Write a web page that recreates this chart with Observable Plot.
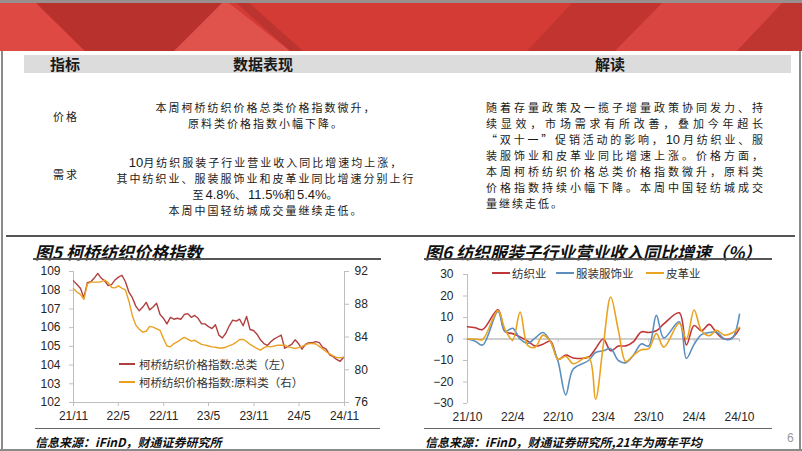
<!DOCTYPE html>
<html><head><meta charset="utf-8">
<script src="https://cdn.jsdelivr.net/npm/d3@7"></script>
<script src="https://cdn.jsdelivr.net/npm/@observablehq/plot@0.6"></script>
<style>
body{margin:0;background:#fff;}
#slide{position:relative;width:802px;height:451px;overflow:hidden;background:#fff;font-family:"Noto Sans CJK SC",sans-serif;color:#1a1a1a;}
.a{position:absolute;white-space:nowrap;}
.t13{font-size:11px;line-height:16px;letter-spacing:2px;}
.n{font-family:'Liberation Sans',Arial,sans-serif;font-size:13px;letter-spacing:0;}
.c{transform:translateX(-50%);}
.hdr{font-size:15px;font-weight:bold;line-height:18px;}
.jl{width:277px;text-align:justify;text-align-last:justify;letter-spacing:0;}
.ttl{font-size:17px;font-weight:bold;font-style:italic;line-height:20px;color:#111;}
.src{font-size:12px;font-weight:bold;font-style:italic;line-height:14px;color:#111;}
.leg{font-size:11.5px;line-height:14px;color:#333;}
.sw{position:absolute;height:2px;}
</style></head>
<body><div id="slide">
<svg class="a" style="left:0;top:0" width="802" height="51">
<rect width="802" height="51" fill="#d43b35"/>
<polygon points="0,0 33,0 85,51 0,51" fill="#de4a43"/>
<polygon points="33,0 225,0 174,51 85,51" fill="#b8312d"/>
<polygon points="225,0 174,51 290,51" fill="#e0534c"/>
<polygon points="233,0 246,0 303,51 290,51" fill="#bb3430"/>
<polygon points="575,0 665,0 615,51 527,51" fill="#c2342f"/>
<polygon points="665,0 785,0 737,51 615,51" fill="#d94540"/>
<polygon points="785,0 802,0 802,51 737,51" fill="#bf3530"/>
<rect width="802" height="3" fill="#9a8f8f"/>
</svg>
<div class="a" style="left:1px;top:51px;width:2px;height:400px;background:#8a8a8a"></div>
<div class="a" style="left:799px;top:51px;width:2px;height:400px;background:#8a8a8a"></div>
<div class="a" style="left:0;top:449px;width:802px;height:2px;background:#8a8a8a"></div>

<div class="a" style="left:24px;top:55px;width:767px;height:18px;background:#dcdcdc"></div>
<div class="a hdr c" style="left:65px;top:55px">指标</div>
<div class="a hdr c" style="left:263px;top:55px">数据表现</div>
<div class="a hdr c" style="left:610px;top:55px">解读</div>

<div class="a t13 c" style="left:66px;top:108px">价格</div>
<div class="a t13 c" style="left:266px;top:99px">本周柯桥纺织价格总类价格指数微升，</div>
<div class="a t13 c" style="left:266px;top:115px">原料类价格指数小幅下降。</div>

<div class="a t13 c" style="left:66px;top:166px">需求</div>
<div class="a t13 c" style="left:266px;top:154px"><span class="n">10</span>月纺织服装子行业营业收入同比增速均上涨，</div>
<div class="a t13 c" style="left:266px;top:170px">其中纺织业、服装服饰业和皮革业同比增速分别上行</div>
<div class="a t13 c" style="left:266px;top:186px">至<span class="n">4.8%</span>、<span class="n">11.5%</span>和<span class="n">5.4%</span>。</div>
<div class="a t13 c" style="left:266px;top:202px">本周中国轻纺城成交量继续走低。</div>

<div class="a t13 jl" style="left:486px;top:99px">随着存量政策及一揽子增量政策协同发力、持</div>
<div class="a t13 jl" style="left:486px;top:115px">续显效，市场需求有所改善，叠加今年超长</div>
<div class="a t13 jl" style="left:486px;top:131px">“双十一”促销活动的影响，<span class="n">10</span>月纺织业、服</div>
<div class="a t13 jl" style="left:486px;top:147px">装服饰业和皮革业同比增速上涨。价格方面，</div>
<div class="a t13 jl" style="left:486px;top:163px">本周柯桥纺织价格总类价格指数微升，原料类</div>
<div class="a t13 jl" style="left:486px;top:179px">价格指数持续小幅下降。本周中国轻纺城成交</div>
<div class="a t13" style="left:486px;top:195px">量继续走低。</div>

<div class="a" style="left:6px;top:235px;width:789px;height:2px;background:#555"></div>

<div class="a ttl" style="left:35px;top:242px">图5 柯桥纺织价格指数</div>
<div class="a" style="left:33px;top:258px;width:348px;height:2px;background:#555"></div>
<div class="a ttl" style="left:425px;top:242px">图6 纺织服装子行业营业收入同比增速（%）</div>
<div class="a" style="left:424px;top:258px;width:348px;height:2px;background:#555"></div>

<div id="c5" class="a" style="left:0;top:262px"></div>
<div id="c6" class="a" style="left:400px;top:262px"></div>

<div class="sw" style="left:119px;top:363px;width:16px;background:#b0403f"></div>
<div class="a leg" style="left:139px;top:357px">柯桥纺织价格指数:总类（左）</div>
<div class="sw" style="left:119px;top:381px;width:16px;background:#eaa123"></div>
<div class="a leg" style="left:139px;top:375px">柯桥纺织价格指数:原料类（右）</div>

<div class="sw" style="left:492px;top:272px;width:18px;background:#c0373a"></div>
<div class="a leg" style="left:512px;top:266px">纺织业</div>
<div class="sw" style="left:556px;top:272px;width:18px;background:#5b8fbe"></div>
<div class="a leg" style="left:576px;top:266px">服装服饰业</div>
<div class="sw" style="left:646px;top:272px;width:18px;background:#eaa320"></div>
<div class="a leg" style="left:666px;top:266px">皮革业</div>

<div class="a" style="left:35px;top:428px;width:345px;height:1px;background:#666"></div>
<div class="a src" style="left:35px;top:435px">信息来源：iFinD，财通证券研究所</div>
<div class="a" style="left:424px;top:428px;width:348px;height:1px;background:#666"></div>
<div class="a src" style="left:425px;top:435px">信息来源：iFinD，财通证券研究所,21年为两年平均</div>
<div class="a" style="left:787px;top:431px;font:12px 'Liberation Sans',Arial,sans-serif;color:#999">6</div>
</div>
<script>
// ---- Figure 5: Keqiao textile price index (biweekly readings from 2021-11-01) ----
const kqTotal = [108.5,108.3,108.1,107.6,108.4,108.45,108.65,108.9,108.65,108.5,
108.25,108.3,108.55,108.7,108.8,108.45,107.9,107.6,107.15,106.9,
107.1,107.35,106.95,107.1,107.3,106.7,106.5,106.2,106.55,106.45,
106.5,106.45,106.7,106.75,106.55,106.65,106.5,106.2,106.2,106.05,
105.95,106.15,105.6,105.45,105.7,106.1,106.4,106.35,106.45,106.1,
106.6,105.9,105.85,105.65,105.35,105.15,105.05,105.25,105.4,105.5,
105.6,104.9,105.0,105.1,105.35,105.15,104.85,105.1,105.2,105.2,
105.25,105.2,104.95,104.85,104.55,104.45,104.3,104.2,104.4];
const kqRaw = [89.9,89.5,89.2,88.6,90.5,90.7,90.7,90.7,90.75,90.95,
90.65,90.05,90.0,90.25,89.95,89.75,88.4,86.6,85.45,84.95,
84.6,84.7,85.3,85.2,85.0,84.8,83.8,82.9,82.8,83.2,
83.4,83.7,83.95,83.75,83.5,83.6,83.35,83.1,83.0,82.9,
82.8,82.75,82.65,82.65,82.75,82.95,83.1,83.35,83.7,83.7,
83.45,83.1,82.85,82.6,82.4,82.7,82.85,82.8,82.9,83.0,
83.0,83.0,82.8,82.7,82.6,82.7,82.85,83.05,83.2,83.2,
83.15,82.85,82.55,82.2,81.95,81.7,81.5,81.45,81.55];
const kqLeftTicks = [102,103,104,105,106,107,108,109];
const kqRightTicks = [76,80,84,88,92];
const kqXTicks = ["2021-11","2022-05","2022-11","2023-05","2023-11","2024-05","2024-11"];

// ---- Figure 6: YoY revenue growth (%), Jan merged into Feb ----
const months6 = ["2021-10","2021-11","2021-12","2022-02","2022-03","2022-04","2022-05","2022-06","2022-07","2022-08","2022-09","2022-10","2022-11","2022-12",
"2023-02","2023-03","2023-04","2023-05","2023-06","2023-07","2023-08","2023-09","2023-10","2023-11","2023-12",
"2024-02","2024-03","2024-04","2024-05","2024-06","2024-07","2024-08","2024-09","2024-10"];
const textile = [5.7,5.2,4.4,13.6,3.5,2.5,1.0,-1.0,-3.3,-2.4,-1.0,-9.5,-7.5,-8.8,-8.4,-4.5,0.0,-5.5,-3.3,-3.2,-1.2,3.3,3.0,3.8,7.0,12.2,-2.8,6.3,3.8,6.8,2.8,0.0,0.5,4.8];
const apparel = [0.0,-1.0,-2.8,12.8,3.5,5.0,0.0,-2.0,0.5,3.0,-1.3,-10.5,-26.0,-14.0,-10.0,-6.3,-5.5,-4.5,-10.0,-11.0,-7.5,-2.3,-3.3,11.0,0.5,8.0,-9.0,-2.5,2.0,3.0,3.2,0.0,0.3,11.5];
const leather = [0.0,0.0,-0.2,13.2,4.5,-0.5,12.5,-3.0,-3.8,1.8,-1.4,-9.5,-8.0,-11.5,-8.5,-28.0,-3.0,19.5,4.0,-10.5,-7.5,-5.0,-4.5,2.5,-3.8,7.3,0.0,13.5,3.8,1.5,4.0,1.8,2.8,5.4];
const seriesNames = ["纺织业","服装服饰业","皮革业"];
const seriesColors = ["#c0373a","#5b8fbe","#eaa320"];
const c6XTicks = ["2021-10","2022-04","2022-10","2023-04","2023-10","2024-04","2024-10"];
const c6YTicks = [-30,-20,-10,0,10,20,30];

const ym = s => { const [y,m] = s.split("-").map(Number); return new Date(Date.UTC(y, m-1, 1)); };
const fmt = d3.utcFormat("%y/%-m");
const axisGrey = "#bfbfbf";
const tickStyle = {fontFamily:"'Liberation Sans', Arial, sans-serif", fontSize:"12px", color:"#262626", background:"transparent", overflow:"visible"};

// Figure 5
const L0 = 102, L1 = 109, R0 = 76, R1 = 92;
const toL = r => L0 + (r - R0) * (L1 - L0) / (R1 - R0);
const fromL = l => R0 + (l - L0) * (R1 - R0) / (L1 - L0);
const kqStart = new Date(Date.UTC(2021, 10, 1));
const kqData = kqTotal.map((v, i) => ({date: d3.utcDay.offset(kqStart, 14*i), total: v, raw: kqRaw[i]}));
const kqDomain = [ym(kqXTicks[0]), ym(kqXTicks[kqXTicks.length-1])];

const chart5 = Plot.plot({
  width: 400, height: 165,
  marginLeft: 73, marginRight: 56, marginTop: 9, marginBottom: 25,
  style: tickStyle,
  x: {type: "utc", domain: kqDomain, label: null},
  y: {domain: [L0, L1], label: null},
  marks: [
    Plot.ruleX([kqDomain[0]], {stroke: axisGrey}),
    Plot.ruleX([kqDomain[1]], {stroke: axisGrey}),
    Plot.ruleY([L0], {stroke: axisGrey}),
    Plot.axisY(kqLeftTicks, {anchor: "left", tickSize: 4, tickPadding: 9, stroke: axisGrey, label: null}),
    Plot.axisY(kqRightTicks.map(toL), {anchor: "right", tickSize: 4, tickPadding: 6, stroke: axisGrey, label: null, tickFormat: d => Math.round(fromL(d))}),
    Plot.axisX(kqXTicks.map(ym), {anchor: "bottom", tickSize: 4, tickPadding: 5, stroke: axisGrey, label: null, tickFormat: fmt}),
    Plot.line(kqData, {x: "date", y: "total", stroke: "#b0403f", strokeWidth: 1.4}),
    Plot.line(kqData, {x: "date", y: d => toL(d.raw), stroke: "#eaa123", strokeWidth: 1.4})
  ]
});
document.getElementById("c5").appendChild(chart5);

// Figure 6
const c6Data = [];
[textile, apparel, leather].forEach((arr, k) => arr.forEach((v, i) => c6Data.push({date: ym(months6[i]), series: seriesNames[k], value: v})));
const c6Domain = [ym(c6XTicks[0]), ym(c6XTicks[c6XTicks.length-1])];
const chart6 = Plot.plot({
  width: 400, height: 165,
  marginLeft: 67, marginRight: 61, marginTop: 12, marginBottom: 24,
  style: tickStyle,
  x: {type: "utc", domain: c6Domain, label: null},
  y: {domain: [-30, 30], label: null},
  color: {domain: seriesNames, range: seriesColors},
  marks: [
    Plot.ruleX([c6Domain[0]], {stroke: axisGrey}),
    Plot.ruleY([0], {stroke: axisGrey, strokeWidth: 1.5}),
    Plot.ruleX(c6XTicks.map(ym), {y1: 0, y2: -1.5, stroke: axisGrey}),
    Plot.axisY(c6YTicks, {anchor: "left", tickSize: 4, tickPadding: 10, stroke: axisGrey, label: null}),
    Plot.axisX(c6XTicks.map(ym), {anchor: "bottom", tickSize: 0, tickPadding: 9, label: null, tickFormat: fmt}),
    Plot.line(c6Data, {x: "date", y: "value", z: "series", stroke: "series", curve: "catmull-rom", strokeWidth: 1.6})
  ]
});
document.getElementById("c6").appendChild(chart6);
</script>
</body></html>
